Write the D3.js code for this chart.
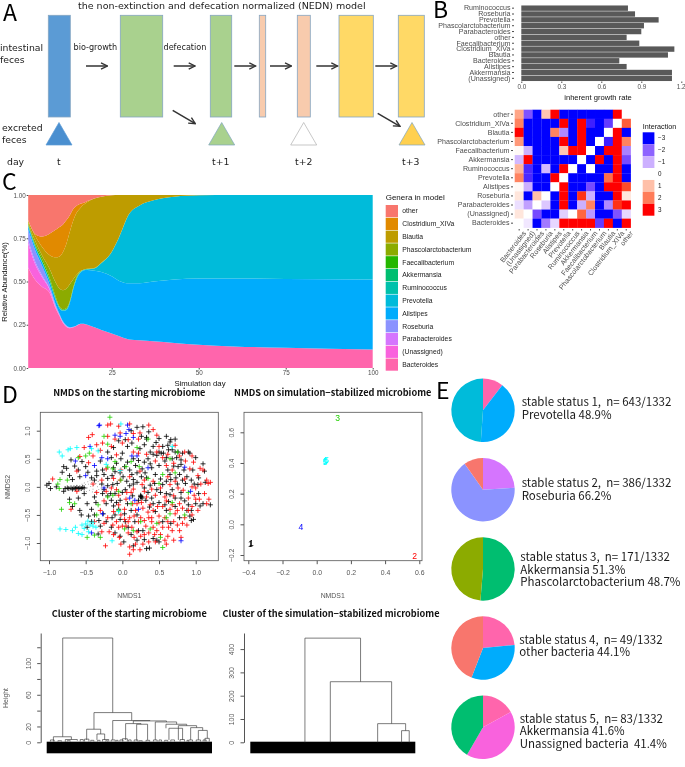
<!DOCTYPE html>
<html>
<head>
<meta charset="utf-8">
<script src="https://cdn.jsdelivr.net/npm/d3@7"></script>
<style>
  body { margin: 0; background: #fff; }
  svg { display: block; filter: blur(0.3px); }
</style>
</head>
<body>
<script>
const width = 685;
const height = 767;

// ---- panel A, schematic (boxes are in page units, there is no data behind them)
const boxLeft = [48.3, 120.3, 210.3, 259.3, 297.3, 339, 398.3];
const boxWide = [22, 42.4, 21.4, 6.4, 13, 34.3, 26];
const boxFill = ["#5b9bd5", "#a9d18e", "#a9d18e", "#f8cbad", "#f8cbad", "#ffd966", "#ffd966"];
const triangleMid = [59, 221.7, 303.7, 412];
const triangleFill = ["#4a8fd0", "#a9d18e", "#ffffff", "#ffd04f"];
const triangleEdge = ["#5b9bd5", "#7fa5c0", "#b0b0b0", "#7fa5c0"];
const arrowStart = [86, 173.7, 234.3, 270, 316.3, 375.3];
const slantStart = [[172.7, 110.3], [377.7, 113.3]];
const slantEnd = [[195.3, 123.7], [400, 126.3]];

// ---- panel B, growth rate bars
const growthGenera = ["Ruminococcus", "Roseburia", "Prevotella", "Phascolarctobacterium", "Parabacteroides", "other",
  "Faecalibacterium", "Clostridium_XIVa", "Blautia", "Bacteroides", "Alistipes", "Akkermansia", "(Unassigned)"];
const growthRates = [0.80, 0.853, 1.03, 0.92, 0.90, 0.79, 0.885, 1.148, 1.10, 0.735, 0.79, 1.13, 1.13];

// ---- panel B, interaction heatmap
const heatCols = ["Bacteroides", "(Unassigned)", "Parabacteroides", "Roseburia", "Alistipes", "Prevotella", "Ruminococcus",
  "Akkermansia", "Faecalibacterium", "Phascolarctobacterium", "Blautia", "Clostridium_XIVa", "other"];
const heatRows = ["other", "Clostridium_XIVa", "Blautia", "Phascolarctobacterium", "Faecalibacterium", "Akkermansia",
  "Ruminococcus", "Prevotella", "Alistipes", "Roseburia", "Parabacteroides", "(Unassigned)", "Bacteroides"];
const heatValues = [
  [1.4, -2.2, -3, 0.9, 3, -3, -3, -3, -3, -3, -3, 3, 0],
  [1.9, -3, -3, -3, -3, 3, -3, 3, -2.8, -3, -2.5, 0, 2.4],
  [3, -3, -3, -3, 1.9, -1.5, -3, 3, -3, -3, 0, 3, -3],
  [1.6, -3, -3, -3, -3, 3, -3, 3, -3, 0, -2.8, 3, 1.9],
  [0.1, -1, -3, -3, -3, 0.9, 3, 3, 0, -3, 3, 3, -1.6],
  [-0.9, 3, -3, -3, -3, -3, -3, 0, -3, 3, -3, 3, -2.3],
  [1.2, -2.7, -3, -0.9, -3, 3, 0, -3, 0, -3, -3, 3, -3],
  [1.9, -2.7, -3, -3, 3, 0, -3, -3, -3, -3, 2.2, 3, -3],
  [0.1, -1, -3, -3, 0, 3, -3, -3, -2.3, -3, 3, 3, 2.6],
  [0.4, -3, 1, 0, -3, 3, -3, 2.8, -1, -3, -3, 3, 0.4],
  [-0.4, -1.2, 0, -0.7, -3, 3, -3, -1, 1.9, -3, -1.5, 2.8, 3],
  [0.4, 0, -2.3, -3, -3, -0.6, 0, 2.3, -1.3, -3, -3, -2.2, -0.5],
  [0, -0.3, -3, -1.7, -0.5, 3, 3, 3, 3, -2.5, 3, -3, 3]
];
const heatLegend = [-3, -2, -1, 0, 1, 2, 3];

const simDays = [1, 3, 5, 7, 9, 10, 11, 12, 13, 14, 15, 16, 17, 18, 20, 22, 25, 27, 30, 33, 37, 43, 50, 60, 75, 100];
const topBacteroides = [.58, .51, .47, .44, .34, .30, .26, .237, .23, .235, .245, .255, .255, .25, .235, .22, .20, .185, .165, .16, .155, .145, .135, .125, .117, .107];
const topUnassigned = [.72, .60, .525, .46, .345, .302, .262, .239, .232, .236, .246, .256, .256, .25, .235, .22, .20, .185, .165, .16, .155, .145, .135, .125, .117, .107];
const topParabacteroides = [.74, .615, .535, .465, .35, .305, .265, .241, .233, .237, .246, .256, .256, .25, .235, .22, .20, .185, .165, .16, .155, .145, .135, .125, .117, .107];
const topRoseburia = [.80, .68, .59, .49, .36, .312, .27, .245, .236, .238, .247, .256, .256, .25, .235, .22, .20, .185, .165, .16, .155, .145, .135, .125, .117, .107];
const topAlistipes = [.82, .70, .61, .51, .39, .345, .33, .335, .38, .46, .52, .55, .565, .567, .562, .555, .53, .505, .49, .49, .50, .512, .518, .518, .515, .512];
const topPrevotella = [.822, .703, .612, .513, .392, .347, .332, .337, .382, .462, .522, .552, .567, .57, .575, .605, .67, .75, .89, .94, .97, .99, .998, 1, 1, 1];
const topRuminococcus = [.824, .705, .614, .515, .394, .349, .334, .339, .384, .464, .524, .554, .568, .571, .576, .606, .671, .751, .89, .94, .97, .99, .998, 1, 1, 1];
const topAkkermansia = [.826, .707, .616, .517, .396, .351, .336, .341, .386, .466, .526, .556, .569, .572, .577, .607, .671, .751, .89, .94, .97, .99, .998, 1, 1, 1];
const topFaecalibacterium = [.83, .715, .63, .53, .405, .355, .34, .345, .39, .47, .53, .558, .569, .573, .577, .607, .671, .751, .89, .94, .97, .99, .998, 1, 1, 1];
const topPhascolarctobacterium = [.84, .735, .65, .58, .49, .46, .45, .46, .485, .515, .54, .56, .57, .574, .578, .608, .672, .752, .891, .94, .97, .99, .998, 1, 1, 1];
const topBlautia = [.85, .765, .70, .655, .64, .645, .67, .72, .79, .855, .90, .925, .945, .96, .98, .99, .998, 1, 1, 1, 1, 1, 1, 1, 1, 1];
const topClostridium = [.855, .775, .76, .775, .80, .815, .83, .855, .885, .92, .94, .95, .955, .965, .98, .99, .998, 1, 1, 1, 1, 1, 1, 1, 1, 1];
const topOther = [1, 1, 1, 1, 1, 1, 1, 1, 1, 1, 1, 1, 1, 1, 1, 1, 1, 1, 1, 1, 1, 1, 1, 1, 1, 1];

const legendGenera = ["other", "Clostridium_XIVa", "Blautia", "Phascolarctobacterium", "Faecalibacterium", "Akkermansia",
  "Ruminococcus", "Prevotella", "Alistipes", "Roseburia", "Parabacteroides", "(Unassigned)", "Bacteroides"];
const generaColors = ["#F8766D", "#E18A00", "#BE9C00", "#8CAB00", "#24B700", "#00BE70",
  "#00C1AB", "#00BBDA", "#00ACFC", "#8B93FF", "#D575FE", "#F962DD", "#FF65AC"];

// ---- panel D, NMDS of the starting microbiome, hand read per cluster colour
const nmdsBlack = [[-1.03,.03],[-1.0,.06],[-.98,-.03],[-.9,.0],[-.82,.26],[-.8,.36],[-.76,.33],[-.72,.2],[-.7,.48],[-.68,.13],[-.65,.37],[-.6,.3],[-.58,.18],[-.55,.45],[-.5,.36],[-.47,.26],[-.42,.16],[-.38,.12],[-.35,.28],[-.3,.46],[-.27,.3],[-.25,.22],[-.2,.15],[-.12,.34],[-.1,.27],[-.08,.42],[-.03,.25],[.03,.36],[.07,.44],[.1,.3],[.13,.22],[.18,.38],[.22,.47],[.27,.32],[.31,.25],[.35,.5],[.38,.41],[.42,.58],[.45,.22],[.5,.38],[.53,.6],[.58,.46],[.62,.3],[.65,.22],[.68,.5],[.72,.62],[.76,.36],[.8,.4],[.84,.3],[.88,.18],[.92,.6],[.96,.3],[1.0,.52],[1.04,.16],[1.1,.41],[1.12,.28],
  [.2,1.06],[.28,1.07],[.36,.98],[.33,.85],[.3,.75],[.24,.68],[.42,.72],[.46,.79],[.5,.86],[.55,.72],[.6,.9],[.65,.8],[.68,.66],[.72,.85],[.76,.62],[.82,.6],[.9,.62],[.13,.78],[.07,.72],[.0,.6],[-.05,.82],[-.12,.7],[-.2,.62],
  [-.8,-.08],[-.72,-.22],[-.68,-.35],[-.6,-.2],[-.58,-.42],[-.52,-.12],[-.48,-.3],[-.46,-.52],[-.42,-.4],[-.38,-.18],[-.36,-.28],[-.32,-.6],[-.27,-.12],[-.25,-.05],[-.2,-.16],[-.15,-.24],[-.1,-.12],[-.08,-.28],[-.05,-.4],[.0,-.1],[.04,-.05],[.1,.02],[.15,.05],[.2,.08],[.25,-.15],[.25,-.18],[.27,-.2],[.3,-.02],[.35,-.1],[.4,-.2],[.42,-.3],[.47,-.05],[.5,-.28],[.55,.04],[.6,-.12],[.63,-.26],[.68,-.05],[.72,-.35],[.75,.05],[.8,-.1],[.85,-.25],[.88,-.42],[.92,-.52],[.94,-.6],[1.0,-.3],[1.04,-.12],[1.1,-.3],[1.2,-.32],[1.13,.08],
  [-.48,-.72],[-.42,-.62],[-.33,-.84],[-.3,-.7],[-.22,-.62],[-.15,-.72],[-.1,-.5],[-.03,-.58],[.03,-.48],[.08,-.72],[.12,-.85],[.17,-.62],[.2,-.95],[.28,-.78],[.33,-1.1],[.37,-1.09],[.42,-.92],[.5,-.98],[.55,-.62],[.6,-.42],[.66,-.65],[.78,-.55],[.02,-.98],[.15,-1.05],[-.1,-.82],
  [-.78,-.03],[-.75,-.02],[-.73,-.03],[-.7,-.02],[-.68,-.04],[-.66,-.02],[-.64,-.03],[-.62,-.01],[-.6,-.03],[-.58,-.02],[-.56,-.03],[-.54,-.01],[-.52,-.02],[.25,-.17],[.26,-.18],[.33,.88],[.66,.84],
  [.26,.9],[.38,.62],[.47,.56],[.56,.6],[.6,.52],[.63,.66],[.7,.37],[.66,.13],[.73,.16],[.78,.22],[.82,.12],[.86,.06],[.94,.12],[.98,.05],[1.03,.04],[.6,.1],[.52,.14],[.44,.06],[.38,.03],[.33,.16],[.26,.18],[.2,.25],[.15,.13],[.06,.1],[.01,.18],[-.07,.06],[-.13,.04],[-.2,.02],[-.28,.05],[-.35,.2],[-.14,.2],[-.16,-.12],[-.22,-.3],[-.12,-.34],[-.03,-.24],[.07,-.3],[.14,-.16],[.22,-.24],[.32,-.24],[.37,-.36],[.45,-.44],[.52,-.1],[.58,-.32],[.65,-.14],[.72,-.2],[.8,-.2],[.9,-.32],[.94,-.42],[.97,-.58],[1.06,-.34],[.12,-.42],[.2,-.5],[.04,-.62],[-.14,-.55],[-.26,-.48],[-.38,-.5],[-.56,-.5],[.62,.74],[.8,.48],[.74,.52],[.5,.62],[.4,.34],[.3,.44],[.15,.5],[-.02,.5],[-.15,.52],[.12,1.0],[.04,.84],[.47,-.95],[.3,-.94],[.22,-.78],[-.03,-.88]];
const nmdsRed = [[-.95,.14],[-.58,.54],[-.52,.7],[-.46,.88],[-.41,.93],[-.4,.55],[-.35,.75],[-.3,.65],[-.27,.78],[-.2,.9],[-.15,.72],[-.2,1.1],[-.16,1.12],[-.05,1.08],[.1,1.12],[-.1,.85],[.0,.78],[.15,.95],[.22,.85],[.36,1.1],[.42,1.02],[.47,.92],[.15,.62],[.22,.6],[.33,.58],[.47,.62],[.55,.52],[.6,.38],[.68,.3],[.78,.55],[.85,.62],[.95,.55],[1.03,.2],[1.1,.3],[1.15,.12],[1.2,.08],[1.17,.06],[.92,.32],[.85,.14],[.72,.1],[.62,.18],[.42,.1],[.3,.12],[.1,.18],[-.03,.12],[-.12,.15],[-.28,.12],[-.4,.05],[-.62,.28],
  [-.35,-.1],[-.25,-.25],[-.15,-.02],[-.05,-.15],[.05,-.22],[.12,-.1],[.2,-.3],[.3,-.08],[.38,-.32],[.45,-.15],[.55,-.35],[.58,-.18],[.65,-.4],[.7,-.16],[.78,-.3],[.83,-.06],[.9,-.2],[.98,-.15],[1.05,-.22],[1.18,-.22],[1.15,-.3],[1.03,-.42],[.95,-.35],[.85,-.55],[.75,-.68],[.68,-.78],[.62,-.88],[.55,-.72],[.5,-.52],[.47,-.78],[.4,-.62],[.35,-.45],[.32,-.7],[.25,-.55],[.18,-.42],[.1,-.55],[.03,-.4],[-.05,-.32],[-.12,-.44],[-.2,-.55],[-.3,-.42],[-.38,-.62],[-.62,-.08],[-.7,-.4],
  [-.23,-1.05],[-.12,-.85],[-.13,-.68],[-.05,-.72],[.0,-.7],[.05,-.7],[.08,-.82],[.13,-.72],[.16,-.9],[.18,-1.02],[.1,-1.07],[.1,-1.2],[.15,-1.12],[.25,-.88],[.3,-.85],[.36,-.98],[.42,-.72],[.45,-.98],[.58,-.95],[.63,-.72],[.7,-.95],[.8,-.9],[.82,-.65],[.95,-.5],[-.04,-.9],[-.28,-.8],[.4,-.55],[.28,-.38],[.58,-.55],[.72,-.48],[.48,-.35],[.22,-.62],[-.02,-.5],[1.0,-.02],[1.06,.33],[.86,.46],[.7,.42],[.45,.46],[.24,.28],[-.02,.3],[-.22,.32],[-.08,.57],[-.46,.43],
  [.08,.84],[-.03,.96],[.24,.96],[.5,.72],[.62,.58],[.72,.74],[.97,.44],[1.07,.05],[.95,.0],[.76,-.02],[.65,.04],[.52,-.02],[.4,-.04],[.27,.04],[.15,-.04],[.06,-.1],[-.08,-.05],[-.22,-.08],[.14,-.3],[.26,-.28],[.33,-.18],[.42,-.42],[.6,-.25],[.68,-.32],[.75,-.42],[.82,-.38],[.9,-.42],[1.0,-.22],[1.12,-.12],[.88,-.68],[.78,-.78],[.7,-.62],[.62,-.62],[.52,-.85],[.44,-.85],[.36,-.82],[.3,-.6],[.2,-.8],[.16,-.52],[.08,-.62],[.03,-.58],[-.08,-.62],[-.18,-.8],[-.25,-.65],[-.02,-1.02],[.28,-1.02],[.24,-1.12],[.6,-1.02],[.36,-.55],[.5,-.64]];
const nmdsGreen = [[-.17,1.24],[-.85,.13],[-.88,.05],[-.86,-.03],[-.83,-.4],[-.72,-.28],[-.65,-.3],[-.6,.52],[-.5,.55],[-.45,.6],[-.35,-.5],[-.2,.35],[-.13,.32],[-.05,-.08],[.05,.36],[.12,.45],[.23,.36],[.35,.15],[.5,.06],[.55,.22],[.65,.5],[.72,.25],[.35,.85],[.2,.7],[-.25,.9],[-.2,.76],[-.33,-.32],[-.3,-.9],[-.38,-.86],[-.48,-.9],[-.2,-.18],[-.13,-.15],[.03,-.75],[.15,-.78],[.25,-.62],[.38,-.75],[.47,-.65],[.52,-.9],[.55,-1.08],[.6,-.55],[.65,-.48],[.68,-.28],[.85,-.5],[.9,-.1],[.75,.62],[-.1,.45],[-.05,-.42],[-.75,.12],[-.02,.12],[.12,-.3]];
const nmdsBlue = [[-.32,1.09],[-.31,1.1],[.07,1.1],[.09,1.02],[-.1,.92],[-.03,.9],[.05,.95],[.15,.88],[-.44,.72],[-.28,.52],[-.2,.5],[-.64,.46],[-.5,.2],[-.38,.38],[.13,.55],[.35,.34],[.2,.55],[-.25,-.02],[.17,-.24],[.22,-.4],[.1,-.2],[-.42,-.82],[.8,-.96],[.93,-.08],[.85,.35],[-.27,-.48]];
const nmdsCyan = [[-.86,.62],[-.82,.55],[-.74,.66],[-.71,.68],[-.62,.70],[-.85,-.75],[-.77,-.76],[-.68,-.78],[-.64,-.72],[-.6,-.83],[-.55,-.68],[-.5,-.66],[-.47,-.61],[-.44,-.68],[-.4,-.63],[-.46,-.8],[-.36,-.72],[-.52,-.74],[-.42,.68],[-.33,.64],[-.14,-.96],[-.02,1.12],[-.03,.29],[-.22,.4],[-.55,-.85],[-.4,-.7],[.68,.72],[-.05,-.44]];
const nmdsSpecks = [[-.5,.04],[-.48,-.02],[-.46,.05],[-.45,-.06],[-.43,.01],[-.42,.08],[-.4,-.04],[-.39,.03],[-.37,-.08],[-.36,.06],[-.34,.0],[-.32,-.05],[-.31,.04],[-.29,-.02],[-.27,.07],[-.25,-.07],[-.47,.09],[-.44,.12],[-.41,-.09],[-.38,.11],[-.35,-.11],[-.33,.1],[-.49,-.08],[-.52,.07],[-.55,.05]];

// ---- panel D, NMDS of the stabilized microbiome: label and position of each status
const stableLabels = ["1", "1", "2", "3", "4", "5", "5", "5"];
const stableX = [-.382, -.388, .573, .123, -.092, .053, .058, .05];
const stableY = [-.124, -.13, -.204, .693, -.02, .413, .422, .405];
const stableColors = ["#000000", "#000000", "#ff0000", "#22d000", "#0000ff", "#00ffff", "#00ffff", "#00ffff"];

// ---- panel D, dendrograms: [height, left leaf, left drop to, right leaf, right drop to]
const clusterStart = [
  [131.7, 129, 7, 532, 37.5], [7, 54, 1, 199, 3.5], [3.5, 150, .5, 247, 2], [37.5, 381, 16.5, 685, 27.5],
  [16.5, 322, 3, 435, 10.5], [10.5, 405, 3, 467, 3], [27.5, 532, 3, 832, 27], [27, 698, 23.6, 965, 25.7],
  [23.6, 636, 3, 760, 22.8], [22.8, 725, 2, 813, 3], [25.7, 875, 3, 1047, 22.8], [22.8, 961, 17.7, 1128, 21],
  [17.7, 985, 3, 1095, 3], [21, 1061, 3, 1208, 18.5], [18.5, 1160, 3, 1257, 15], [15, 1222, 3, 1294, 5],
  [5, 1275, 1, 1310, 1], [4, 305, 1, 340, 1], [3.5, 450, 1, 500, 1], [3, 520, 1, 552, 1], [4.5, 610, 1, 650, 1],
  [3, 590, 1, 615, 1], [3, 705, 1, 735, 1], [2.5, 800, 1, 830, 1], [3, 860, 1, 890, 1], [3, 1000, 1, 1030, 1],
  [3.5, 1075, 1, 1110, 1], [3, 1145, 1, 1175, 1], [3, 1205, 1, 1240, 1], [2.5, 950, 1, 975, 1], [2, 90, 1, 120, 1],
  [3, 30, 1, 60, 1], [2, 165, 1, 190, 1], [3.5, 270, 1, 295, 1], [2.5, 355, 1, 380, 1], [2.5, 410, 1, 430, 1],
  [2, 475, 1, 490, 1], [2.5, 560, 1, 575, 1], [3, 660, 1, 680, 1], [2, 745, 1, 770, 1], [3, 905, 1, 925, 1],
  [2.5, 1130, 1, 1140, 1], [3, 1260, 1, 1285, 1]
];
const clusterStable = [
  [447, 441, 0, 890, 260], [260, 646, 0, 1141, 80], [80, 1028, 0, 1254, 50], [50, 1221, 0, 1283, 0]
];

// ---- panel E, pies
const pieSharesOne = [10.4, 40.7, 48.9];
const pieColorsOne = ["#FF65AC", "#00ACFC", "#00BBDA"];
const pieSharesTwo = [24, 66.2, 9.8];
const pieColorsTwo = ["#D575FE", "#8B93FF", "#F8766D"];
const pieSharesThree = [51.3, 48.7];
const pieColorsThree = ["#00BE70", "#8CAB00"];
const pieSharesFour = [23.5, 32.4, 44.1];
const pieColorsFour = ["#FF65AC", "#00ACFC", "#F8766D"];
const pieSharesFive = [17, 41.4, 41.6];
const pieColorsFive = ["#FF65AC", "#F962DD", "#00BE70"];
const pieCaptions = [
  ["stable status 1,  n= 643/1332", "Prevotella 48.9%"],
  ["stable status 2,  n= 386/1332", "Roseburia 66.2%"],
  ["stable status 3,  n= 171/1332", "Akkermansia 51.3%", "Phascolarctobacterium 48.7%"],
  ["stable status 4,  n= 49/1332", "other bacteria 44.1%"],
  ["stable status 5,  n= 83/1332", "Akkermansia 41.6%", "Unassigned bacteria  41.4%"]
];

const sansFont = "Liberation Sans, Arial, sans-serif";
const dejaFont = "DejaVu Sans, sans-serif";
const cjkFont = "Noto Sans CJK SC, Noto Sans, sans-serif";
const greyText = "#4d4d4d";
const baseLine = "#555";

const svg = d3.select("body").append("svg")
    .attr("width", width)
    .attr("height", height);

// small helper for plain text
function label(txt, x, y, size, opts = {}) {
    return svg.append("text")
        .attr("x", x)
        .attr("y", y)
        .attr("font-size", size)
        .attr("font-family", opts.family || sansFont)
        .attr("font-weight", opts.weight || "normal")
        .attr("fill", opts.fill || "#1a1a1a")
        .attr("text-anchor", opts.anchor || "start")
        .attr("transform", opts.rotate ? `rotate(${opts.rotate} ${x} ${y})` : null)
        .text(txt);
}

function styleAxis(g, size, color, family) {
    g.selectAll("text").attr("font-size", size).attr("fill", color).attr("font-family", family || sansFont);
    g.selectAll("line").attr("stroke", color);
    g.selectAll("path.domain").attr("stroke", color);
}

// panel letters
[["A", 3, 21], ["B", 433, 18], ["C", 2, 190], ["D", 2, 403], ["E", 436, 399]].forEach(d => {
    label(d[0], d[1], d[2], 23, { family: cjkFont, fill: "#000" });
});

// ---- A
svg.append("defs").append("marker")
    .attr("id", "head")
    .attr("viewBox", "0 0 10 10")
    .attr("refX", 9).attr("refY", 5)
    .attr("markerWidth", 8).attr("markerHeight", 8)
    .attr("markerUnits", "userSpaceOnUse")
    .attr("orient", "auto")
    .append("path")
    .attr("d", "M1,1L9,5L1,9")
    .attr("fill", "none")
    .attr("stroke", "#333")
    .attr("stroke-width", 1.7);

svg.selectAll("rect.box").data(boxLeft).join("rect")
    .attr("class", "box")
    .attr("x", d => d)
    .attr("y", 15.3)
    .attr("width", (d, i) => boxWide[i])
    .attr("height", 101.7)
    .attr("fill", (d, i) => boxFill[i])
    .attr("stroke", "#85a6c2")
    .attr("stroke-width", 0.8);

svg.selectAll("path.tri").data(triangleMid).join("path")
    .attr("class", "tri")
    .attr("d", d => `M${d},122.5L${d + 13},145L${d - 13},145Z`)
    .attr("fill", (d, i) => triangleFill[i])
    .attr("stroke", (d, i) => triangleEdge[i])
    .attr("stroke-width", 0.7);

svg.selectAll("line.arrow").data(arrowStart).join("line")
    .attr("class", "arrow")
    .attr("x1", d => d).attr("x2", d => d + 21.4)
    .attr("y1", 66).attr("y2", 66)
    .attr("stroke", "#333").attr("stroke-width", 1.5)
    .attr("marker-end", "url(#head)");

svg.selectAll("line.slant").data(slantStart).join("line")
    .attr("class", "slant")
    .attr("x1", d => d[0]).attr("y1", d => d[1])
    .attr("x2", (d, i) => slantEnd[i][0]).attr("y2", (d, i) => slantEnd[i][1])
    .attr("stroke", "#333").attr("stroke-width", 1.5)
    .attr("marker-end", "url(#head)");

label("the non-extinction and defecation normalized (NEDN) model", 78, 8.5, 9.5, { family: dejaFont });
[["intestinal", 0, 51], ["feces", 0, 62.5], ["excreted", 2, 131], ["feces", 2, 143], ["day", 7, 165], ["t", 57, 165],
 ["t+1", 212, 165], ["t+2", 295, 165], ["t+3", 402, 165]].forEach(d => label(d[0], d[1], d[2], 9.3, { family: dejaFont }));
label("bio-growth", 73.5, 50, 8.1, { family: dejaFont });
label("defecation", 163.5, 50, 8.1, { family: dejaFont });

// ---- B bars
const growthX = d3.scaleLinear().domain([0, 1.2]).range([521.3, 681.3]);
const growthY = d3.scaleBand().domain(growthGenera).range([5, 81.5]).padding(0.08);

svg.selectAll("rect.growth").data(growthGenera).join("rect")
    .attr("class", "growth")
    .attr("x", growthX(0))
    .attr("y", d => growthY(d))
    .attr("width", (d, i) => growthX(growthRates[i]) - growthX(0))
    .attr("height", growthY.bandwidth())
    .attr("fill", "#595959");

svg.append("g")
    .attr("transform", "translate(514,0)")
    .call(d3.axisLeft(growthY).tickSize(2).tickPadding(1.5))
    .call(g => g.select(".domain").remove())
    .call(styleAxis, 7.1, greyText);
svg.append("g")
    .attr("transform", "translate(0,81.5)")
    .call(d3.axisBottom(growthX).tickValues([0, 0.3, 0.6, 0.9, 1.2]).tickFormat(d3.format(".1f")).tickSize(1.5).tickPadding(1.5))
    .call(g => g.select(".domain").remove())
    .call(styleAxis, 6.3, greyText)
    .call(g => g.selectAll("text").filter(d => d === 1.2).attr("dx", -0.8));
label("inherent growth rate", 598, 99.5, 7.6, { anchor: "middle", fill: "#111" });

// ---- B heatmap
const heatX = d3.scaleBand().domain(heatCols).range([514.7, 630.7]);
const heatY = d3.scaleBand().domain(heatRows).range([109.7, 227.7]);
const heatColor = d3.scaleLinear().domain([-3, 0, 3]).range(["#0000ff", "#ffffff", "#ff0000"]).interpolate(d3.interpolateLab).clamp(true);

heatRows.forEach((row, r) => {
    svg.selectAll(`rect.heat${r}`).data(heatCols).join("rect")
        .attr("class", `heat${r}`)
        .attr("x", d => heatX(d))
        .attr("y", heatY(row))
        .attr("width", heatX.bandwidth() + 0.2)
        .attr("height", heatY.bandwidth() + 0.2)
        .attr("fill", (d, c) => heatColor(heatValues[r][c]));
});

svg.append("g")
    .attr("transform", "translate(513,0)")
    .call(d3.axisLeft(heatY).tickSize(2).tickPadding(1.5))
    .call(g => g.select(".domain").remove())
    .call(styleAxis, 7.1, greyText);
svg.append("g")
    .attr("transform", "translate(0,229)")
    .call(d3.axisBottom(heatX).tickSize(1.5).tickPadding(1))
    .call(g => g.select(".domain").remove())
    .call(styleAxis, 7.1, greyText)
    .call(g => g.selectAll("text")
        .attr("text-anchor", "end")
        .attr("dx", 1)
        .attr("dy", 6)
        .attr("transform", "rotate(-52)"));

label("Interaction", 642.7, 128.5, 7.2, { fill: "#111" });
const heatLegendY = d3.scaleBand().domain(heatLegend).range([132.3, 215.7]);
svg.selectAll("rect.heatKey").data(heatLegend).join("rect")
    .attr("class", "heatKey")
    .attr("x", 642.7)
    .attr("y", d => heatLegendY(d))
    .attr("width", 11.7)
    .attr("height", heatLegendY.bandwidth())
    .attr("fill", d => heatColor(d));
svg.selectAll("text.heatKeyText").data(heatLegend).join("text")
    .attr("class", "heatKeyText")
    .attr("x", 658)
    .attr("y", d => heatLegendY(d) + heatLegendY.bandwidth() / 2 + 2.2)
    .attr("font-size", 6.3)
    .attr("font-family", sansFont)
    .attr("fill", "#1a1a1a")
    .text(d => d < 0 ? "\u2212" + Math.abs(d) : d);

// ---- C
const simX = d3.scaleLinear().domain([1, 100]).range([28.2, 372.7]);
const simY = d3.scaleLinear().domain([0, 1]).range([368, 195]);
const stackEdges = [topBacteroides, topUnassigned, topParabacteroides, topRoseburia, topAlistipes, topPrevotella, topRuminococcus,
  topAkkermansia, topFaecalibacterium, topPhascolarctobacterium, topBlautia, topClostridium, topOther];
const stackColors = generaColors.slice().reverse();
const layerArea = (lower, upper) => d3.area()
    .x((d, i) => simX(simDays[i]))
    .y0((d, i) => simY(lower ? lower[i] : 0))
    .y1((d, i) => simY(upper[i]))
    .curve(d3.curveMonotoneX);

stackEdges.forEach((edge, i) => {
    svg.append("path")
        .attr("d", layerArea(stackEdges[i - 1], edge)(simDays))
        .attr("fill", stackColors[i]);
});

svg.append("g")
    .attr("transform", "translate(28.2,0)")
    .call(d3.axisLeft(simY).tickValues([0, .25, .5, .75, 1]).tickFormat(d3.format(".2f")).tickSize(1.5).tickPadding(1))
    .call(g => g.select(".domain").remove())
    .call(styleAxis, 6.3, greyText);
svg.append("g")
    .attr("transform", "translate(0,368)")
    .call(d3.axisBottom(simX).tickValues([25, 50, 75, 100]).tickSize(1.5).tickPadding(1.5))
    .call(g => g.select(".domain").remove())
    .call(styleAxis, 6.3, greyText);
label("Simulation day", 200, 385.5, 7.8, { anchor: "middle", fill: "#111" });
label("Relative Abundance(%)", 7.2, 282, 7.6, { anchor: "middle", rotate: -90, fill: "#111" });

label("Genera in model", 385.7, 199.5, 8, { fill: "#111" });
const legendY = d3.scaleBand().domain(legendGenera).range([204.7, 371]);
svg.selectAll("rect.genus").data(legendGenera).join("rect")
    .attr("class", "genus")
    .attr("x", 385.7)
    .attr("y", d => legendY(d) + 0.3)
    .attr("width", 12.3)
    .attr("height", legendY.bandwidth() - 0.6)
    .attr("fill", (d, i) => generaColors[i]);
svg.selectAll("text.genus").data(legendGenera).join("text")
    .attr("class", "genus")
    .attr("x", 402.3)
    .attr("y", d => legendY(d) + legendY.bandwidth() / 2 + 2.3)
    .attr("font-size", 6.8)
    .attr("font-family", sansFont)
    .attr("fill", "#1a1a1a")
    .text(d => d);

// ---- D scatter, left
label("NMDS on the starting microbiome", 129.3, 396, 9.2, { anchor: "middle", family: cjkFont, weight: "bold", fill: "#111" });
label("NMDS on simulation\u2212stabilized microbiome", 332.7, 396, 9.2, { anchor: "middle", family: cjkFont, weight: "bold", fill: "#111" });

const startX = d3.scaleLinear().domain([-1.0, 1.0]).range([49, 195.7]);
const startY = d3.scaleLinear().domain([-1.0, 1.0]).range([543, 430.7]);

function rBox(x0, x1) {
    svg.append("rect")
        .attr("x", x0).attr("y", 412.3)
        .attr("width", x1 - x0).attr("height", 148.4)
        .attr("fill", "none")
        .attr("stroke", baseLine)
        .attr("stroke-width", 0.8);
}

function rotatedLeftAxis(g) {
    g.selectAll("text")
        .attr("text-anchor", "middle")
        .attr("transform", "rotate(-90)")
        .attr("x", 0)
        .attr("y", -10)
        .attr("dy", 0);
}

rBox(40.3, 218.3);
[[nmdsBlack, "#000000"], [nmdsRed, "#ff0000"], [nmdsGreen, "#22d000"], [nmdsBlue, "#0000ff"], [nmdsCyan, "#00ffff"]].forEach(set => {
    svg.append("g").selectAll("path").data(set[0]).join("path")
        .attr("d", d => {
            const x = startX(d[0]), y = startY(d[1]);
            return `M${x - 2.5},${y}H${x + 2.5}M${x},${y - 2.5}V${y + 2.5}`;
        })
        .attr("stroke", set[1])
        .attr("stroke-width", 0.8)
        .attr("fill", "none");
});
svg.append("g").selectAll("circle").data(nmdsSpecks).join("circle")
    .attr("cx", d => startX(d[0]))
    .attr("cy", d => startY(d[1]))
    .attr("r", 0.4)
    .attr("fill", "#222");

svg.append("g")
    .attr("transform", "translate(0,560.7)")
    .call(d3.axisBottom(startX).tickValues([-1, -.5, 0, .5, 1]).tickFormat(d => d3.format(".1f")(d).replace("-", "\u2212")).tickSize(3.5).tickPadding(6))
    .call(g => g.select(".domain").remove())
    .call(styleAxis, 6.9, baseLine);
svg.append("g")
    .attr("transform", "translate(40.3,0)")
    .call(d3.axisLeft(startY).tickValues([-1, -.5, 0, .5, 1]).tickFormat(d => d3.format(".1f")(d).replace("-", "\u2212")).tickSize(3.5))
    .call(g => g.select(".domain").remove())
    .call(styleAxis, 6.9, baseLine)
    .call(rotatedLeftAxis);

// ---- D scatter, right
const stableXs = d3.scaleLinear().domain([-.4, .6]).range([248.3, 419.3]);
const stableYs = d3.scaleLinear().domain([-.2, .6]).range([555, 432.3]);
rBox(244, 422);
svg.selectAll("text.status").data(stableLabels).join("text")
    .attr("class", "status")
    .attr("x", (d, i) => stableXs(stableX[i]))
    .attr("y", (d, i) => stableYs(stableY[i]) + 3)
    .attr("font-size", 8.6)
    .attr("font-family", sansFont)
    .attr("text-anchor", "middle")
    .attr("fill", (d, i) => stableColors[i])
    .text(d => d);
svg.append("g")
    .attr("transform", "translate(0,560.7)")
    .call(d3.axisBottom(stableXs).tickValues([-.4, -.2, 0, .2, .4, .6]).tickFormat(d => d3.format(".1f")(d).replace("-", "\u2212")).tickSize(3.5).tickPadding(6))
    .call(g => g.select(".domain").remove())
    .call(styleAxis, 6.9, baseLine);
svg.append("g")
    .attr("transform", "translate(244,0)")
    .call(d3.axisLeft(stableYs).tickValues([-.2, 0, .2, .4, .6]).tickFormat(d => d3.format(".1f")(d).replace("-", "\u2212")).tickSize(3.5))
    .call(g => g.select(".domain").remove())
    .call(styleAxis, 6.9, baseLine)
    .call(rotatedLeftAxis);

label("NMDS1", 129.3, 597.5, 6.9, { anchor: "middle", fill: baseLine });
label("NMDS1", 332.7, 597.5, 6.9, { anchor: "middle", fill: baseLine });
label("NMDS2", 9.5, 487, 6.9, { anchor: "middle", rotate: -90, fill: baseLine });

// ---- D dendrograms
label("Cluster of the starting microbiome", 129.3, 617, 9.2, { anchor: "middle", family: cjkFont, weight: "bold", fill: "#111" });
label("Cluster of the simulation\u2212stabilized microbiome", 331, 617, 9.2, { anchor: "middle", family: cjkFont, weight: "bold", fill: "#111" });
label("Height", 8, 698, 6.9, { anchor: "middle", rotate: -90, fill: baseLine });

function dendrogram(rows, x0, x1, axisX, maxH, tickVals, shown) {
    const leaf = d3.scaleLinear().domain([0, 1332]).range([x0, x1]);
    const h = d3.scaleLinear().domain([0, maxH]).range([742.3, 633]);
    svg.append("rect")
        .attr("x", x0).attr("y", 741.7)
        .attr("width", x1 - x0).attr("height", 11.6)
        .attr("fill", "#000");
    svg.append("g").selectAll("path").data(rows).join("path")
        .attr("d", d => `M${leaf(d[1])},${h(d[2])}V${h(d[0])}H${leaf(d[3])}V${h(d[4])}`)
        .attr("fill", "none")
        .attr("stroke", "#444")
        .attr("stroke-width", 0.7);
    svg.append("g")
        .attr("transform", `translate(${axisX},0)`)
        .call(d3.axisLeft(h).tickValues(tickVals).tickFormat(d => shown.includes(d) ? d : "").tickSize(3.5).tickSizeOuter(0))
        .call(styleAxis, 6.9, baseLine)
        .call(rotatedLeftAxis);
}

dendrogram(clusterStart, 46.7, 212, 40.7, 138, [0, 20, 40, 60, 80, 100, 120], [0, 20, 60, 100]);
dendrogram(clusterStable, 250.3, 415.3, 244, 469, [0, 100, 200, 300, 400], [0, 100, 200, 300, 400]);

// ---- E
const pieLayout = d3.pie().sort(null);
const pieArc = d3.arc().innerRadius(0).outerRadius(31.7);
const pieRows = [
  [pieSharesOne, pieColorsOne, 410.3, 521.7, 406.3],
  [pieSharesTwo, pieColorsTwo, 489.7, 521.7, 487],
  [pieSharesThree, pieColorsThree, 569, 520.3, 561],
  [pieSharesFour, pieColorsFour, 648, 519.3, 643.7],
  [pieSharesFive, pieColorsFive, 727.3, 519.7, 722.7]
];
pieRows.forEach((row, p) => {
    svg.append("g")
        .attr("transform", `translate(483,${row[2]})`)
        .selectAll("path").data(pieLayout(row[0])).join("path")
        .attr("d", pieArc)
        .attr("fill", (d, i) => row[1][i]);
    pieCaptions[p].forEach((line, l) => {
        label(line, row[3], row[4] + l * 12.6, 11.5, { family: cjkFont, fill: "#1a1a1a" }).style("white-space", "pre");
    });
});
</script>
</body>
</html>
